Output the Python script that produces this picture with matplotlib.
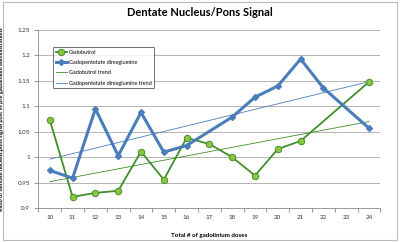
import numpy as np
import matplotlib
matplotlib.use("Agg")
import matplotlib.pyplot as plt
from matplotlib.patches import Rectangle

doses = [10, 11, 12, 13, 14, 15, 16, 17, 18, 19, 20, 21, 22, 23, 24]
gadobutrol = [1.073, 0.922, 0.930, 0.934, 1.011, 0.956, 1.038, 1.026, 1.000,
              0.964, 1.016, 1.032, np.nan, np.nan, 1.148]
gadopentetate = [0.974, 0.959, 1.095, 1.003, 1.088, 1.010, 1.023, np.nan, 1.079,
                 1.118, 1.140, 1.193, 1.136, np.nan, 1.057]

plt.rcParams['font.family'] = ['Lato', 'DejaVu Sans']

GREEN = "#3f8f2a"
GREEN_FILL = "#8cc63e"
BLUE = "#4a7ebb"

fig = plt.figure(figsize=(4.0, 2.42), dpi=100)
ax = fig.add_axes([0.096, 0.14, 0.855, 0.736])

x = np.arange(len(doses))
g = np.array(gadobutrol)
b = np.array(gadopentetate)
gm = ~np.isnan(g)
bm = ~np.isnan(b)

ax.plot(x[gm], g[gm], color=GREEN, lw=1.3, marker="o", ms=4.6,
        mfc=GREEN_FILL, mec=GREEN, mew=0.7, label="Gadobutrol", zorder=4)
ax.plot(x[bm], b[bm], color=BLUE, lw=2.2, marker="D", ms=3,
        mfc=BLUE, mec=BLUE, label="Gadopentetate dimeglumine", zorder=4)

# linear trend lines, as Excel fits them on the category index
gk = np.polyfit(x[gm], g[gm], 1)
bk = np.polyfit(x[bm], b[bm], 1)
ax.plot(x, np.polyval(gk, x), color=GREEN, lw=0.6, label="Gadobutrol trend", zorder=3)
ax.plot(x, np.polyval(bk, x), color=BLUE, lw=0.6, label="Gadopentetate dimeglumine trend", zorder=3)

ax.set_xlim(-0.5, len(doses) - 0.5)
ax.set_ylim(0.9, 1.25)
ax.set_yticks([0.9, 0.95, 1.0, 1.05, 1.1, 1.15, 1.2, 1.25])
ax.set_yticklabels(["0.9", "0.95", "1", "1.05", "1.1", "1.15", "1.2", "1.25"])
ax.set_xticks(x)
ax.set_xticklabels([str(d) for d in doses])
ax.set_xticks(np.arange(-0.5, len(doses), 1.0), minor=True)
ax.tick_params(axis="x", which="major", length=0, labelsize=4.5, pad=5, colors="#333333")
ax.tick_params(axis="x", which="minor", length=3, color="#888888", width=0.6)
ax.tick_params(axis="y", length=3, color="#888888", width=0.6, labelsize=4.5, pad=3,
               labelcolor="#333333")
ax.grid(axis="y", color="#b5b5b5", lw=0.7)
ax.set_axisbelow(True)
for s in ["top", "right"]:
    ax.spines[s].set_visible(False)
for s in ["left", "bottom"]:
    ax.spines[s].set_color("#888888")
    ax.spines[s].set_linewidth(0.6)

ax.set_xlabel("Total # of gadolinium doses", fontsize=4.5, fontweight="bold", labelpad=9)
ax.set_ylabel("Ratio of dentate nucleus:pons signal post vs pre gadolinium administrations",
              fontsize=4, fontweight="bold", labelpad=10)
fig.suptitle("Dentate Nucleus/Pons Signal", fontsize=8, fontweight="bold", y=0.97)

leg = ax.legend(loc="upper left", bbox_to_anchor=(0.043, 0.905), fontsize=4.0,
                frameon=True, fancybox=False, borderpad=0.5, labelspacing=0.95,
                handlelength=2.0, handletextpad=0.3, borderaxespad=0)
leg.get_frame().set_edgecolor("#333333")
leg.get_frame().set_linewidth(0.6)

fig.patches.append(Rectangle((0.008, 0.01), 0.984, 0.98, transform=fig.transFigure,
                             fill=False, edgecolor="#bbbbbb", lw=0.8))

fig.savefig("out.png", dpi=100)
